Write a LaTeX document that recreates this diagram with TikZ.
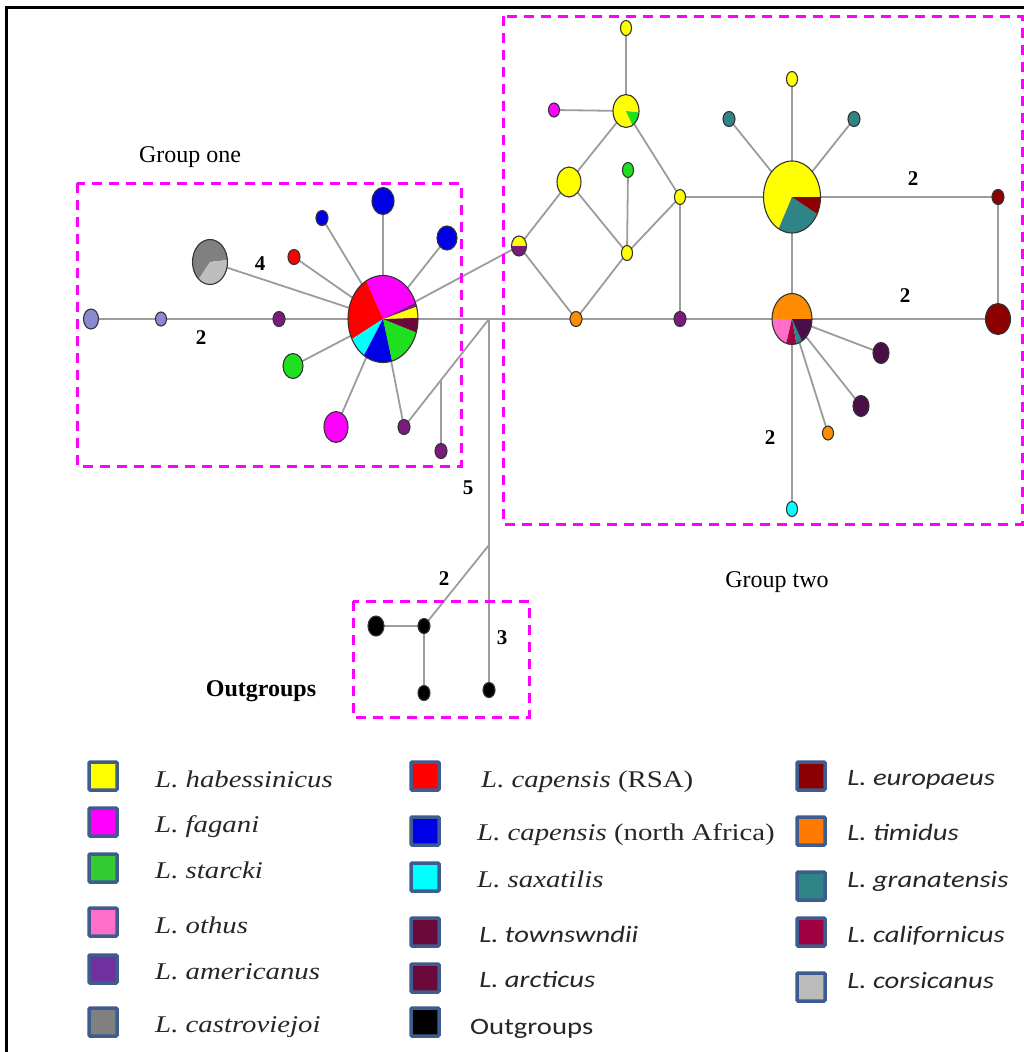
\documentclass[tikz,border=0pt]{standalone}
\usepackage{fontspec}
\setmainfont{Liberation Serif}
\newfontfamily\carl{Carlito}
\usetikzlibrary{shapes.geometric,calc}

\definecolor{cyel}{HTML}{FFFF00}
\definecolor{cmag}{HTML}{FF00FF}
\definecolor{cgrn}{HTML}{1EE01E}
\definecolor{cgrnleg}{HTML}{33CC33}
\definecolor{cpnk}{HTML}{FF6EC7}
\definecolor{camer}{HTML}{7030A0}
\definecolor{cpurp}{HTML}{7A1A7E}
\definecolor{cgry}{HTML}{808080}
\definecolor{clgry}{HTML}{BEBEBE}
\definecolor{cred}{HTML}{FF0000}
\definecolor{cblu}{HTML}{0000E6}
\definecolor{ccya}{HTML}{00FFFF}
\definecolor{ctown}{HTML}{6B0A3A}
\definecolor{ceur}{HTML}{8B0000}
\definecolor{ctim}{HTML}{FF7A00}
\definecolor{corg}{HTML}{FF8C00}
\definecolor{ctea}{HTML}{2F8585}
\definecolor{ccal}{HTML}{A0003F}
\definecolor{ccor}{HTML}{BBBBBB}
\definecolor{clav}{HTML}{8A8AD0}
\definecolor{cdkp}{HTML}{4A0F48}
\definecolor{legb}{HTML}{3F5C8E}
\definecolor{linkgray}{HTML}{9C9C9C}

\pgfdeclarelayer{edges}
\pgfdeclarelayer{slices}
\pgfsetlayers{edges,slices,main}

% haplotype: name, x, y, width, height, colour
\newcommand\hap[6]{\node[hapnode, fill=#6, minimum width=#4pt, minimum height=#5pt] (#1) at (#2,#3) {};}
% pie haplotype outline: name, x, y, width, height
\newcommand\piehap[5]{\node[hapnode, minimum width=#4pt, minimum height=#5pt] (#1) at (#2,#3) {};}
% pie wedge: node, x radius, y radius, start, end, colour
\newcommand\wedgefill[6]{\begin{pgfonlayer}{slices}\fill[#6] (#1.center) -- +(#4:#2pt and #3pt) arc[start angle=#4, end angle=#5, x radius=#2pt, y radius=#3pt] -- cycle;\end{pgfonlayer}}
% legend entry: name, x, y, colour
\newcommand\legsq[4]{\node[legbox, fill=#4] (#1) at (#2,#3) {};}

\begin{document}
\begin{tikzpicture}[x=1pt,y=1pt,
  link/.style={draw=linkgray, line width=1.8pt},
  hapnode/.style={ellipse, draw=black!80, line width=1.1pt, inner sep=0pt},
  grp/.style={draw=cmag, line width=3pt, dash pattern=on 10pt off 7pt},
  num/.style={font=\fontsize{21}{24}\selectfont\bfseries, inner sep=0pt},
  grplabel/.style={font=\fontsize{24}{28}\selectfont, anchor=base, inner sep=0pt},
  legbox/.style={draw=legb, line width=3.5pt, minimum width=28pt, minimum height=28pt, inner sep=0pt, rounded corners=1pt},
  legserif/.style={font=\fontsize{24}{28}\selectfont\itshape, anchor=base west, inner sep=0pt, xscale=1.2, text=black!85},
  legsans/.style={font=\carl\fontsize{23.5}{28}\selectfont\itshape, anchor=base west, inner sep=0pt, xscale=1.22, text=black!85},
]
\useasboundingbox (0,0) rectangle (1024,-1052);
\clip (0,0) rectangle (1024,-1052);

% outer frame (left and top edges)
\draw[line width=3pt] (6,-1060) -- (6,-7) -- (1040,-7);

% group boxes
\draw[grp] (77,-183) rectangle (461,-466);
\draw[grp] (503,-16) rectangle (1022,-524);
\draw[grp] (353,-601) rectangle (529,-717);

% ---------- group one ----------
\hap{l1}{91}{-319}{15}{20}{clav}
\hap{l2}{161}{-319}{11}{14}{clav}
\hap{p1}{279}{-319}{12}{15}{cpurp}
\piehap{c1}{383}{-319}{70}{87}
\wedgefill{c1}{35}{43.5}{22}{118.7}{cmag}
\wedgefill{c1}{35}{43.5}{118.7}{207.5}{cred}
\wedgefill{c1}{35}{43.5}{207.5}{237}{ccya}
\wedgefill{c1}{35}{43.5}{237}{285}{cblu}
\wedgefill{c1}{35}{43.5}{285}{342}{cgrn}
\wedgefill{c1}{35}{43.5}{342}{361.7}{ctown}
\wedgefill{c1}{35}{43.5}{1.7}{16.7}{cyel}
\wedgefill{c1}{35}{43.5}{16.7}{22}{cpurp}
\piehap{gp}{210}{-262}{35}{45}
\wedgefill{gp}{17.5}{22.5}{5}{230}{cgry}
\wedgefill{gp}{17.5}{22.5}{230}{365}{clgry}
\hap{rd}{294}{-257}{12}{15}{cred}
\hap{b1}{322}{-218}{12}{15}{cblu}
\hap{b2}{383}{-201}{22}{27}{cblu}
\hap{b3}{447}{-238}{20}{24}{cblu}
\hap{gr}{293}{-366}{20}{25}{cgrn}
\hap{mg}{336}{-427}{24}{31}{cmag}
\hap{p2}{404}{-427}{12}{15}{cpurp}
\hap{p3}{441}{-451}{12}{15}{cpurp}
\coordinate (j1) at (489,-319);
\coordinate (k1) at ($(p2)!0.435!(j1)$);
\coordinate (j2) at (489,-545);

% ---------- outgroups ----------
\hap{o1}{376}{-626}{16}{20}{black}
\hap{o2}{424}{-626}{12}{15}{black}
\hap{o3}{424}{-693}{12}{15}{black}
\hap{o4}{489}{-690}{12}{15}{black}

% ---------- group two ----------
\hap{y1}{626}{-28}{11}{15}{cyel}
\piehap{yg}{626}{-111}{26}{33}
\wedgefill{yg}{13}{16.5}{-5}{300}{cyel}
\wedgefill{yg}{13}{16.5}{300}{355}{cgrn}
\hap{m1}{554}{-110}{11}{14}{cmag}
\hap{y2}{569}{-182}{24}{30}{cyel}
\hap{g1}{628}{-170}{11}{15}{cgrn}
\hap{y3}{680}{-197}{11}{15}{cyel}
\hap{y4}{627}{-253}{11}{15}{cyel}
\piehap{yp}{519}{-246}{15}{20}
\wedgefill{yp}{7.5}{10}{0}{180}{cyel}
\wedgefill{yp}{7.5}{10}{180}{360}{cpurp}
\hap{or1}{576}{-319}{12}{15}{corg}
\hap{pu1}{680}{-319}{12}{15}{cpurp}
\piehap{bp}{792}{-197}{57}{72}
\wedgefill{bp}{28.5}{36}{0}{242}{cyel}
\wedgefill{bp}{28.5}{36}{242}{332}{ctea}
\wedgefill{bp}{28.5}{36}{332}{360}{ceur}
\hap{t1}{729}{-119}{12}{15}{ctea}
\hap{t2}{854}{-119}{12}{15}{ctea}
\hap{y5}{792}{-79}{11}{15}{cyel}
\hap{mr1}{998}{-197}{12}{15}{ceur}
\hap{mr2}{998}{-319}{25}{31}{ceur}
\piehap{op}{792}{-319}{40}{51}
\wedgefill{op}{20}{25.5}{0}{180}{corg}
\wedgefill{op}{20}{25.5}{180}{253}{cpnk}
\wedgefill{op}{20}{25.5}{253}{283}{ccal}
\wedgefill{op}{20}{25.5}{283}{300}{ctea}
\wedgefill{op}{20}{25.5}{300}{360}{cdkp}
\hap{dp1}{881}{-353}{16}{21}{cdkp}
\hap{dp2}{861}{-406}{16}{21}{cdkp}
\hap{or2}{828}{-433}{11}{14}{corg}
\hap{cy}{792}{-509}{11}{15}{ccya}

% ---------- connectors ----------
\begin{pgfonlayer}{edges}
\draw[link] (l1.center) -- (l2.center) -- (p1.center) -- (c1.center) -- (j1) -- (or1.center) -- (pu1.center) -- (op.center) -- (mr2.center);
\foreach \n in {gp,rd,b1,b2,b3,gr,mg,p2,yp} \draw[link] (c1.center) -- (\n.center);
\draw[link] (p2.center) -- (k1) -- (j1);
\draw[link] (k1) -- (p3.center);
\draw[link] (j1) -- (j2) -- (o4.center);
\draw[link] (j2) -- (o2.center);
\draw[link] (o1.center) -- (o2.center) -- (o3.center);
\draw[link] (y1.center) -- (yg.center);
\draw[link] (m1.center) -- (yg.center);
\draw[link] (yg.center) -- (y2.center);
\draw[link] (yg.center) -- (y3.center);
\draw[link] (y2.center) -- (yp.center);
\draw[link] (y2.center) -- (y4.center);
\draw[link] (g1.center) -- (y4.center);
\draw[link] (y3.center) -- (y4.center);
\draw[link] (yp.center) -- (or1.center);
\draw[link] (y4.center) -- (or1.center);
\draw[link] (y3.center) -- (pu1.center);
\draw[link] (y3.center) -- (bp.center) -- (mr1.center) -- (mr2.center);
\draw[link] (bp.center) -- (op.center);
\foreach \n in {t1,t2,y5} \draw[link] (bp.center) -- (\n.center);
\foreach \n in {dp1,dp2,or2,cy} \draw[link] (op.center) -- (\n.center);
\end{pgfonlayer}

% ---------- labels ----------
\node[grplabel] (lg1) at (190,-162) {Group one};
\node[grplabel] (lg2) at (777,-587) {Group two};
\node[grplabel, font=\fontsize{24}{28}\selectfont\bfseries] (lg3) at (261,-696) {Outgroups};
\node[num] (w1) at (260,-264) {4};
\node[num] (w2) at (201,-338) {2};
\node[num] (w3) at (913,-179) {2};
\node[num] (w4) at (905,-296) {2};
\node[num] (w5) at (770,-438) {2};
\node[num] (w6) at (468,-488) {5};
\node[num] (w7) at (444,-579) {2};
\node[num] (w8) at (502,-638) {3};

% ---------- legend ----------
\legsq{s1}{103}{-776}{cyel}
\legsq{s2}{103}{-822}{cmag}
\legsq{s3}{103}{-868}{cgrnleg}
\legsq{s4}{103}{-922}{cpnk}
\legsq{s5}{103}{-969}{camer}
\legsq{s6}{103}{-1022}{cgry}
\node[legserif] (t01) at (155,-787) {L. habessinicus};
\node[legserif] (t02) at (155,-832) {L. fagani};
\node[legserif] (t03) at (155,-878) {L. starcki};
\node[legserif] (t04) at (155,-933) {L. othus};
\node[legserif] (t05) at (155,-979) {L. americanus};
\node[legserif] (t06) at (155,-1032) {L. castroviejoi};

\legsq{s7}{425}{-776}{cred}
\legsq{s8}{425}{-831}{cblu}
\legsq{s9}{425}{-877}{ccya}
\legsq{s10}{425}{-932}{ctown}
\legsq{s11}{425}{-978}{ctown}
\legsq{s12}{425}{-1022}{black}
\node[legserif] (t07) at (481,-787) {L. capensis \upshape(RSA)};
\node[legserif] (t08) at (477,-840) {L. capensis \upshape(north Africa)};
\node[legserif] (t09) at (477,-887) {L. saxatilis};
\node[legsans] (t10) at (479,-942) {L. townswndii};
\node[legsans] (t11) at (479,-987) {L. arcticus};
\node[legsans, font=\carl\fontsize{23.5}{28}\selectfont] (t12) at (470,-1034) {Outgroups};

\legsq{s13}{811}{-776}{ceur}
\legsq{s14}{811}{-831}{ctim}
\legsq{s15}{811}{-886}{ctea}
\legsq{s16}{811}{-932}{ccal}
\legsq{s17}{811}{-987}{ccor}
\node[legsans] (t13) at (847,-785) {L. europaeus};
\node[legsans] (t14) at (847,-840) {L. timidus};
\node[legsans] (t15) at (847,-887) {L. granatensis};
\node[legsans] (t16) at (847,-942) {L. californicus};
\node[legsans] (t17) at (847,-988) {L. corsicanus};
\end{tikzpicture}
\end{document}
